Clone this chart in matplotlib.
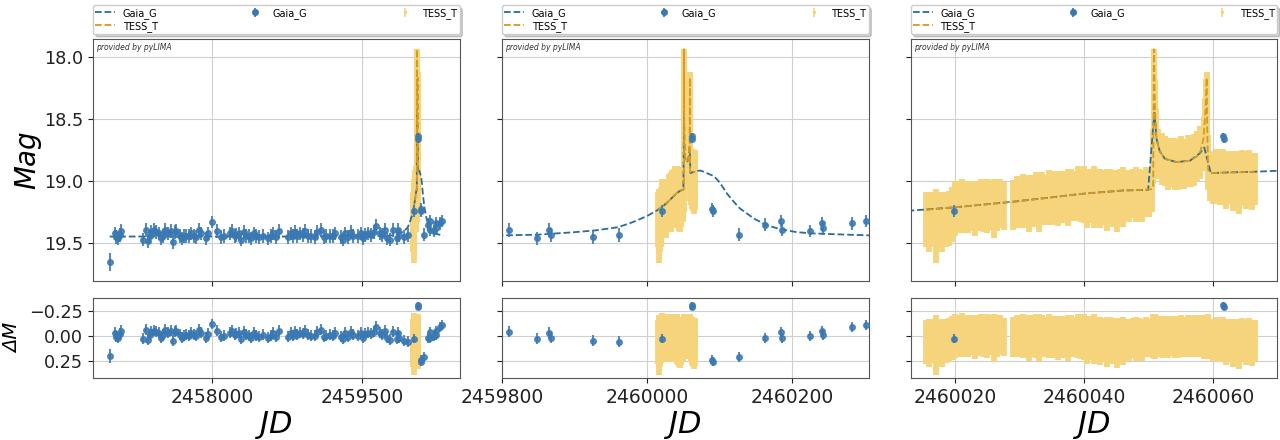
import numpy as np
import matplotlib
matplotlib.use("Agg")
import matplotlib.pyplot as plt

# ---------------- data ----------------
gaia_time = [2456977, 2457027, 2457045, 2457060, 2457078, 2457094,
             2457310, 2457343, 2457360, 2457377, 2457394, 2457420, 2457444, 2457467, 2457494, 2457510,
             2457534, 2457560, 2457594, 2457610, 2457627, 2457644, 2457677, 2457700, 2457720, 2457744,
             2457767, 2457794, 2457820, 2457844, 2457867, 2457894, 2457937, 2457960, 2458004, 2458054,
             2458094, 2458120, 2458177, 2458200, 2458227, 2458244, 2458267, 2458294, 2458320, 2458344,
             2458367, 2458394, 2458420, 2458444, 2458467, 2458510, 2458560, 2458587, 2458610, 2458644,
             2458667, 2458760, 2458787, 2458810, 2458827, 2458854, 2458877, 2458910, 2458934, 2458960,
             2458994, 2459027, 2459054, 2459094, 2459120, 2459144, 2459177, 2459210, 2459227, 2459294,
             2459310, 2459334, 2459360, 2459387, 2459410, 2459460, 2459494, 2459510, 2459534, 2459560,
             2459594, 2459620, 2459644, 2459677, 2459700, 2459727, 2459754, 2459777,
             2459809, 2459848, 2459865, 2459867, 2459926, 2459961, 2460019.85, 2460061.45, 2460061.6,
             2460089.5, 2460090.5, 2460126, 2460162, 2460184.5, 2460185.5, 2460225, 2460241.5,
             2460242.5, 2460282, 2460302]
gaia_mag = [19.65, 19.42, 19.45, 19.46, 19.43, 19.40,
            19.47, 19.39, 19.48, 19.44, 19.41, 19.39, 19.41, 19.42, 19.46, 19.44,
            19.39, 19.42, 19.40, 19.49, 19.41, 19.40, 19.44, 19.46, 19.44, 19.44,
            19.44, 19.42, 19.44, 19.45, 19.39, 19.42, 19.46, 19.42, 19.33, 19.40,
            19.45, 19.44, 19.42, 19.40, 19.44, 19.43, 19.42, 19.47, 19.41, 19.44,
            19.44, 19.46, 19.42, 19.44, 19.45, 19.44, 19.46, 19.44, 19.42, 19.45,
            19.40, 19.45, 19.42, 19.44, 19.41, 19.44, 19.42, 19.43, 19.40, 19.44,
            19.44, 19.45, 19.41, 19.39, 19.45, 19.44, 19.44, 19.44, 19.42, 19.45,
            19.47, 19.42, 19.45, 19.41, 19.44, 19.44, 19.42, 19.46, 19.43, 19.42,
            19.43, 19.41, 19.36, 19.42, 19.43, 19.39, 19.46, 19.47,
            19.39, 19.46, 19.39, 19.43, 19.45, 19.43, 19.24, 18.64, 18.66,
            19.22, 19.24, 19.43, 19.35, 19.32, 19.39, 19.40, 19.34,
            19.38, 19.34, 19.32]
gaia_err = [0.07, 0.055, 0.055, 0.055, 0.055, 0.055,
            0.055, 0.055, 0.055, 0.055, 0.055, 0.055, 0.055, 0.055, 0.055, 0.055,
            0.055, 0.055, 0.055, 0.055, 0.055, 0.055, 0.055, 0.055, 0.055, 0.055,
            0.055, 0.055, 0.055, 0.055, 0.055, 0.055, 0.055, 0.055, 0.05, 0.055,
            0.055, 0.055, 0.055, 0.055, 0.055, 0.055, 0.055, 0.055, 0.055, 0.055,
            0.055, 0.055, 0.055, 0.055, 0.055, 0.055, 0.055, 0.055, 0.055, 0.055,
            0.055, 0.055, 0.055, 0.055, 0.055, 0.055, 0.055, 0.055, 0.055, 0.055,
            0.055, 0.055, 0.055, 0.055, 0.055, 0.055, 0.055, 0.055, 0.055, 0.055,
            0.055, 0.055, 0.055, 0.055, 0.055, 0.055, 0.055, 0.055, 0.055, 0.055,
            0.055, 0.055, 0.055, 0.055, 0.055, 0.055, 0.055, 0.055,
            0.055, 0.055, 0.055, 0.055, 0.055, 0.055, 0.045, 0.03, 0.03,
            0.045, 0.045, 0.05, 0.05, 0.05, 0.05, 0.05, 0.05,
            0.05, 0.05, 0.05]
gaia_res = [0.20, -0.03, 0.01, 0.02, -0.02, -0.05,
            0.03, -0.06, 0.04, -0.01, -0.04, -0.05, -0.04, -0.03, 0.02, -0.01,
            -0.06, -0.03, -0.05, 0.05, -0.04, -0.05, -0.01, 0.02, 0.00, -0.01,
            0.00, -0.03, -0.01, 0.00, -0.06, -0.03, 0.02, -0.02, -0.12, -0.05,
            0.01, 0.00, -0.03, -0.05, -0.01, -0.02, -0.03, 0.03, -0.04, -0.01,
            0.00, 0.02, -0.03, 0.00, 0.01, -0.01, 0.02, 0.00, -0.03, 0.01,
            -0.05, 0.01, -0.03, 0.00, -0.04, -0.01, -0.03, -0.02, -0.05, -0.01,
            0.00, 0.00, -0.04, -0.06, 0.01, 0.00, -0.01, 0.00, -0.03, 0.01,
            0.03, -0.03, 0.01, -0.04, -0.01, 0.00, -0.03, 0.02, -0.02, -0.03,
            -0.02, -0.04, -0.09, -0.03, -0.01, -0.05, 0.02, 0.04,
            -0.04, 0.03, -0.03, 0.02, 0.05, 0.06, 0.03, -0.31, -0.29,
            0.24, 0.26, 0.21, 0.02, -0.04, 0.02, 0.00, -0.05,
            -0.01, -0.09, -0.11]

tess_time = [2460015.5, 2460016.0, 2460016.5, 2460017.0, 2460017.5, 2460018.0, 2460018.5, 2460019.0,
             2460019.5, 2460020.0, 2460020.5, 2460021.0, 2460021.5, 2460022.0, 2460022.5, 2460023.0,
             2460023.5, 2460024.0, 2460024.5, 2460025.0, 2460025.5, 2460026.0, 2460026.5, 2460027.0,
             2460027.5,
             2460029.0, 2460029.5, 2460030.0, 2460030.5, 2460031.0, 2460031.5, 2460032.0, 2460032.5,
             2460033.0, 2460033.5, 2460034.0, 2460034.5, 2460035.0, 2460035.5, 2460036.0, 2460036.5,
             2460037.0, 2460037.5, 2460038.0, 2460038.5, 2460039.0, 2460039.5, 2460040.0, 2460040.5,
             2460041.0, 2460041.5, 2460042.0, 2460042.5, 2460043.0, 2460043.5, 2460044.0, 2460044.5,
             2460045.0, 2460045.5, 2460046.0, 2460046.5, 2460047.0, 2460047.5, 2460048.0, 2460048.5,
             2460049.0, 2460049.5, 2460050.0, 2460050.5,
             2460050.70, 2460050.74, 2460050.78, 2460050.82, 2460050.90, 2460051.00, 2460051.15,
             2460051.5, 2460052.0, 2460052.5, 2460053.0, 2460053.5, 2460054.0, 2460054.5, 2460055.0,
             2460055.5, 2460056.0, 2460056.5, 2460057.0, 2460057.5, 2460058.0, 2460058.5,
             2460058.75, 2460058.88, 2460058.96, 2460059.05, 2460059.2,
             2460059.5, 2460060.0, 2460060.5, 2460061.0, 2460061.5, 2460062.0, 2460062.5, 2460063.0,
             2460063.5, 2460064.0, 2460064.5, 2460065.0, 2460065.5, 2460066.0, 2460066.4]
tess_mag = [19.31, 19.33, 19.31, 19.36, 19.32, 19.33, 19.31, 19.30,
            19.27, 19.22, 19.21, 19.20, 19.22, 19.21, 19.20, 19.22,
            19.20, 19.19, 19.21, 19.20, 19.19, 19.22, 19.19, 19.18,
            19.20,
            19.19, 19.17, 19.18, 19.16, 19.17, 19.18, 19.16, 19.15,
            19.17, 19.14, 19.15, 19.13, 19.14, 19.12, 19.14, 19.13,
            19.12, 19.13, 19.11, 19.12, 19.10, 19.12, 19.11, 19.14,
            19.12, 19.13, 19.12, 19.14, 19.13, 19.15, 19.12, 19.14,
            19.16, 19.12, 19.13, 19.11, 19.12, 19.10, 19.11, 19.10,
            19.12, 19.09, 19.10, 19.08,
            18.80, 18.40, 18.16, 18.15, 18.40, 18.52, 18.62,
            18.78, 18.82, 18.84, 18.86, 18.85, 18.86, 18.87, 18.85,
            18.86, 18.84, 18.85, 18.83, 18.80, 18.77, 18.70,
            18.55, 18.38, 18.30, 18.55, 18.85,
            18.96, 18.97, 18.96, 18.98, 18.96, 18.99, 18.97, 19.00,
            18.98, 19.01, 18.97, 18.99, 18.97, 19.00, 18.98]
tess_err = [0.22, 0.24, 0.22, 0.30, 0.22, 0.24, 0.22, 0.22,
            0.22, 0.22, 0.21, 0.22, 0.20, 0.21, 0.20, 0.22,
            0.20, 0.21, 0.20, 0.22, 0.20, 0.24, 0.21, 0.20,
            0.19,
            0.20, 0.21, 0.20, 0.22, 0.20, 0.23, 0.21, 0.22,
            0.24, 0.21, 0.20, 0.22, 0.21, 0.20, 0.22, 0.21,
            0.20, 0.23, 0.21, 0.20, 0.22, 0.21, 0.23, 0.24,
            0.22, 0.25, 0.22, 0.24, 0.22, 0.25, 0.22, 0.23,
            0.25, 0.22, 0.24, 0.20, 0.21, 0.20, 0.22, 0.20,
            0.21, 0.20, 0.19, 0.17,
            0.22, 0.22, 0.22, 0.20, 0.22, 0.22, 0.21,
            0.20, 0.21, 0.20, 0.21, 0.20, 0.21, 0.20, 0.21,
            0.20, 0.21, 0.20, 0.21, 0.20, 0.21, 0.22,
            0.22, 0.20, 0.18, 0.22, 0.22,
            0.20, 0.21, 0.22, 0.21, 0.22, 0.23, 0.21, 0.24,
            0.22, 0.25, 0.22, 0.23, 0.22, 0.23, 0.21]
tess_res = [0.06, 0.07, 0.05, 0.09, 0.06, 0.07, 0.05, 0.04,
            0.02, 0.00, 0.00, -0.01, 0.01, 0.00, -0.01, 0.01,
            0.00, -0.01, 0.01, 0.00, -0.01, 0.02, 0.00, -0.01,
            0.01,
            0.01, 0.00, 0.01, 0.00, 0.01, 0.02, 0.00, 0.00,
            0.02, 0.00, 0.01, 0.00, 0.01, 0.00, 0.02, 0.01,
            0.01, 0.02, 0.00, 0.01, 0.00, 0.02, 0.01, 0.04,
            0.02, 0.03, 0.03, 0.05, 0.04, 0.06, 0.03, 0.05,
            0.07, 0.04, 0.05, 0.03, 0.04, 0.02, 0.03, 0.02,
            0.04, 0.01, 0.02, 0.01,
            0.00, 0.01, 0.00, -0.01, 0.00, 0.01, 0.00,
            0.00, 0.01, 0.00, 0.01, 0.00, 0.01, 0.02, 0.00,
            0.01, 0.00, 0.01, 0.00, -0.01, 0.00, 0.01,
            0.01, 0.00, 0.00, 0.01, 0.00,
            0.03, 0.04, 0.03, 0.05, 0.03, 0.06, 0.04, 0.07,
            0.05, 0.08, 0.04, 0.06, 0.04, 0.07, 0.05]

gaia_model_time = [2456977, 2457500, 2458000, 2458500, 2459000, 2459500, 2459700, 2459800,
                   2459850, 2459900, 2459930, 2459960, 2459980, 2460000, 2460013, 2460020,
                   2460029, 2460040, 2460046, 2460049.9, 2460050.86, 2460051.2, 2460051.7,
                   2460052.5, 2460054.3, 2460056.4, 2460057.9, 2460058.6, 2460059.6, 2460062,
                   2460066, 2460070, 2460074, 2460080, 2460092, 2460100, 2460110, 2460120,
                   2460128, 2460147, 2460165, 2460183, 2460206, 2460229, 2460275, 2460315]
gaia_model_mag = [19.445, 19.445, 19.445, 19.445, 19.445, 19.443, 19.44, 19.436,
                  19.43, 19.41, 19.395, 19.37, 19.33, 19.28, 19.237, 19.21,
                  19.165, 19.10, 19.075, 19.07, 18.45, 18.66, 18.76,
                  18.82, 18.847, 18.835, 18.776, 18.73, 18.935, 18.93,
                  18.925, 18.917, 18.915, 18.93, 18.96, 19.01, 19.10, 19.17,
                  19.22, 19.30, 19.355, 19.385, 19.41, 19.42, 19.43, 19.437]

tess_model_time = [2460015.5, 2460020, 2460025, 2460029, 2460035, 2460040, 2460046, 2460049,
                   2460050.5, 2460050.68, 2460050.74, 2460050.8, 2460050.9, 2460051.0, 2460051.2,
                   2460051.7, 2460052.5, 2460054.3, 2460056.4, 2460057.5, 2460058.0, 2460058.5,
                   2460058.8, 2460058.97, 2460059.05, 2460059.2, 2460059.5, 2460063, 2460066.4]
tess_model_mag = [19.23, 19.21, 19.185, 19.165, 19.13, 19.10, 19.075, 19.07,
                  19.065, 19.05, 18.4, 17.94, 18.3, 18.48, 18.66,
                  18.76, 18.82, 18.847, 18.835, 18.80, 18.76, 18.65,
                  18.42, 18.17, 18.55, 18.91, 18.935, 18.93, 18.925]

panel_xlims = [(2456810, 2460477), (2459800, 2460305), (2460013.1, 2460069.9)]
panel_xticks = [[2458000, 2459500], [2459800, 2460000, 2460200], [2460020, 2460040, 2460060]]

# ---------------- style ----------------
gaia_color = '#3a78b2'
gaia_model_color = '#2a6b9c'
tess_color = '#f5d47c'
tess_model_color = '#d69a1e'

W, H = 1280, 440
fig = plt.figure(figsize=(W / 100, H / 100), dpi=100)

lefts = [93, 502, 910.7]
width = 366.5
main_top, main_bot = 39.3, 280.7
res_top, res_bot = 298.3, 378.3

for i in range(3):
    l = lefts[i] / W
    w = width / W
    ax = fig.add_axes([l, 1 - main_bot / H, w, (main_bot - main_top) / H])
    axr = fig.add_axes([l, 1 - res_bot / H, w, (res_bot - res_top) / H], sharex=ax)

    ax.errorbar(tess_time, tess_mag, yerr=tess_err, fmt='.', color=tess_color, ms=2,
                elinewidth=4.2, capsize=0, zorder=1)
    lg, = ax.plot(gaia_model_time, gaia_model_mag, '--', color=gaia_model_color, lw=1.3, zorder=2)
    lt, = ax.plot(tess_model_time, tess_model_mag, '--', color=tess_model_color, lw=1.3, zorder=2.1)
    ax.errorbar(gaia_time, gaia_mag, yerr=gaia_err, fmt='o', color=gaia_color, ms=4,
                elinewidth=1.5, capsize=0, alpha=0.85, zorder=3)

    axr.errorbar(tess_time, tess_res, yerr=tess_err, fmt='.', color=tess_color, ms=2,
                 elinewidth=4.2, capsize=0, zorder=1)
    axr.errorbar(gaia_time, gaia_res, yerr=gaia_err, fmt='o', color=gaia_color, ms=4,
                 elinewidth=1.5, capsize=0, alpha=0.85, zorder=3)

    # legend proxies
    pg = ax.errorbar([np.nan], [np.nan], yerr=[0.1], fmt='o', color=gaia_color, ms=4,
                     elinewidth=1.2, capsize=0)
    pt = ax.errorbar([np.nan], [np.nan], yerr=[0.1], fmt='.', color=tess_color, ms=3,
                     elinewidth=1.2, capsize=0)
    ax.legend([lg, lt, pg, pt], ['Gaia_G', 'TESS_T', 'Gaia_G', 'TESS_T'], ncol=3, mode='expand',
              loc='lower left', bbox_to_anchor=(0, 1.022, 1, 0.1), borderaxespad=0,
              fontsize=7, fancybox=True, shadow={'alpha': 0.25}, handlelength=2.0,
              labelspacing=0.2, borderpad=0.25)

    ax.set_xlim(*panel_xlims[i])
    ax.set_xticks(panel_xticks[i])
    ax.ticklabel_format(axis='x', useOffset=False, style='plain')
    ax.set_ylim(19.80, 17.86)
    ax.set_yticks([18.0, 18.5, 19.0, 19.5])
    axr.set_ylim(0.426, -0.374)
    axr.set_yticks([-0.25, 0.0, 0.25])

    for a in (ax, axr):
        a.grid(True, color='#cfcfcf', lw=0.8)
        a.set_axisbelow(True)
        for s in a.spines.values():
            s.set_color('#555555')
        a.tick_params(colors='#222222', labelsize=12.7)
    axr.tick_params(axis='x', labelsize=13.5)
    ax.tick_params(labelbottom=False)

    ax.text(0.008, 0.985, 'provided by pyLIMA', transform=ax.transAxes, fontsize=5.5,
            style='italic', va='top', ha='left', color='#333333')

    axr.set_xlabel('JD', fontsize=22, style='italic', labelpad=2)
    if i == 0:
        ax.set_ylabel('Mag', fontsize=20, style='italic', labelpad=2)
        axr.set_ylabel('ΔM', fontsize=14, style='italic', labelpad=5)
    else:
        ax.tick_params(labelleft=False)
        axr.tick_params(labelleft=False)

fig.savefig('out.png', dpi=100)
